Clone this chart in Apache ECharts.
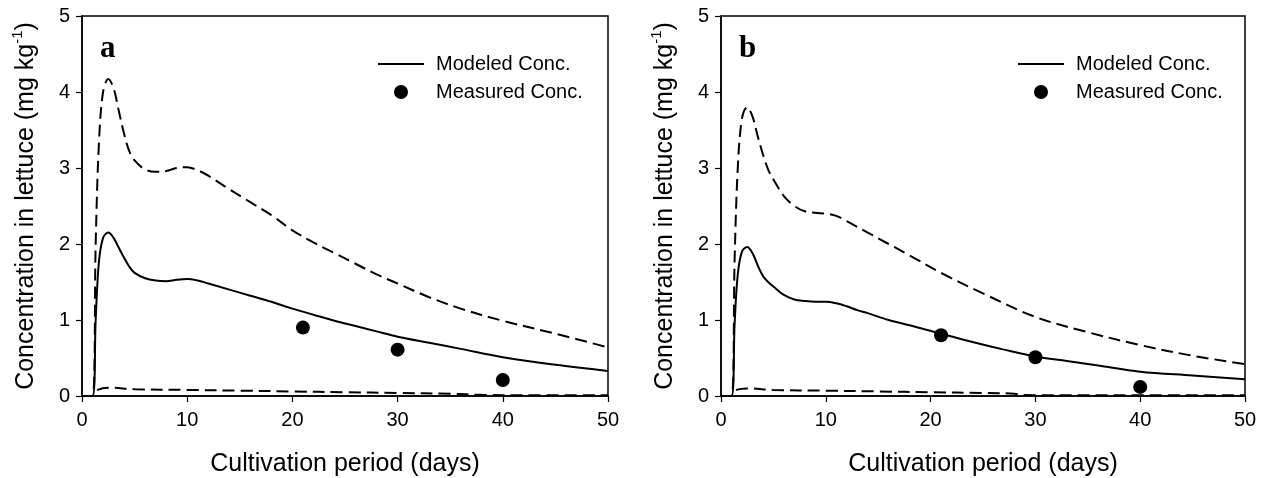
<!DOCTYPE html>
<html>
<head>
<meta charset="utf-8">
<script src="https://cdn.jsdelivr.net/npm/echarts@6/dist/echarts.min.js"></script>
<style>
html,body{margin:0;padding:0;background:#fff;}
#chart{width:1272px;height:478px;}
</style>
</head>
<body>
<div id="chart"></div>
<script>
// ---- Data (x = day, y = mg/kg) ----
const xTicks = [0, 10, 20, 30, 40, 50];
const yTicks = [0, 1, 2, 3, 4, 5];
const panelLabels = ['a', 'b'];

const aModeled = [[0,0],[1,0],[1.3,1.0],[1.6,1.75],[2,2.08],[2.5,2.15],[3,2.08],[3.5,1.95],[4,1.82],[4.5,1.7],[5,1.62],[6,1.55],[7,1.52],[8,1.51],[9,1.53],[10,1.54],[11,1.52],[12,1.48],[14,1.4],[16,1.32],[18,1.24],[20,1.15],[22,1.07],[24,0.99],[26,0.92],[28,0.85],[30,0.78],[33,0.7],[36,0.62],[40,0.51],[45,0.41],[50,0.33]];
const aUpper = [[0,0],[1,0],[1.3,2.0],[1.6,3.3],[2,4.0],[2.5,4.17],[3,4.05],[3.5,3.75],[4,3.45],[4.5,3.22],[5,3.1],[6,2.98],[7,2.95],[8,2.96],[9,3.0],[10,3.01],[11,2.97],[12,2.9],[14,2.72],[16,2.55],[18,2.38],[20,2.18],[22,2.02],[24,1.88],[26,1.74],[28,1.6],[30,1.48],[33,1.3],[36,1.15],[40,0.99],[45,0.82],[50,0.64]];
const aLower = [[0,0],[1,0],[1.5,0.08],[2.5,0.11],[5,0.09],[10,0.08],[15,0.07],[20,0.06],[25,0.05],[30,0.04],[35,0.03],[38,0.015],[42,0.01],[50,0.01]];
const aMeasured = [[21,0.9],[30,0.61],[40,0.21]];

const bModeled = [[0,0],[1,0],[1.3,0.95],[1.6,1.6],[2,1.9],[2.5,1.96],[3,1.88],[3.5,1.72],[4,1.58],[4.5,1.5],[5,1.44],[6,1.33],[7,1.27],[8,1.25],[9,1.24],[10,1.24],[11,1.22],[12,1.18],[13,1.13],[14,1.09],[16,1.0],[18,0.93],[21,0.82],[24,0.71],[27,0.61],[30,0.52],[33,0.46],[36,0.4],[40,0.32],[45,0.27],[50,0.22]];
const bUpper = [[0,0],[1,0],[1.3,1.8],[1.6,3.0],[2,3.65],[2.5,3.8],[3,3.68],[3.5,3.42],[4,3.18],[4.5,2.98],[5,2.85],[6,2.63],[7,2.5],[8,2.43],[9,2.41],[10,2.4],[11,2.37],[12,2.3],[14,2.15],[16,2.0],[18,1.85],[21,1.62],[25,1.35],[30,1.04],[35,0.84],[40,0.67],[45,0.53],[50,0.42]];
const bLower = [[0,0],[1,0],[1.5,0.08],[2.5,0.1],[5,0.08],[10,0.07],[15,0.06],[20,0.05],[25,0.04],[28,0.03],[29,0.012],[35,0.01],[50,0.01]];
const bMeasured = [[21,0.8],[30,0.51],[40,0.12]];

const modeledName = 'Modeled Conc.';
const measuredName = 'Measured Conc.';
const xName = 'Cultivation period (days)';

// ---- Chart ----
const chart = echarts.init(document.getElementById('chart'), null, {renderer: 'canvas'});
const FONT = 'Liberation Sans, Arial, sans-serif';
const grids = [
  {left: 82, top: 16, width: 526, height: 380},
  {left: 721, top: 16, width: 524, height: 380}
];
function xAxis(i) {
  return {
    type: 'value', gridIndex: i, min: xTicks[0], max: xTicks[xTicks.length - 1], interval: 10,
    name: xName, nameLocation: 'middle', nameGap: 56,
    nameTextStyle: {fontFamily: FONT, fontSize: 25, color: '#000'},
    axisLine: {lineStyle: {color: '#000', width: 1.5}},
    axisTick: {inside: false, length: 6, lineStyle: {color: '#000', width: 1.2}},
    axisLabel: {fontFamily: FONT, fontSize: 20, color: '#000', margin: 14},
    splitLine: {show: false}
  };
}
function yAxis(i) {
  return {
    type: 'value', gridIndex: i, min: yTicks[0], max: yTicks[yTicks.length - 1], interval: 1,
    name: '{a|Concentration in lettuce (mg kg}{s|-1}{a|)}', nameLocation: 'middle', nameGap: 43,
    nameTextStyle: {
      rich: {
        a: {fontFamily: FONT, fontSize: 25, color: '#000', lineHeight: 29, verticalAlign: 'bottom'},
        s: {fontFamily: FONT, fontSize: 15, color: '#000', lineHeight: 29, verticalAlign: 'top'}
      }
    },
    axisLine: {lineStyle: {color: '#000', width: 1.5}},
    axisTick: {inside: false, length: 6, lineStyle: {color: '#000', width: 1.2}},
    axisLabel: {fontFamily: FONT, fontSize: 20, color: '#000', margin: 12},
    splitLine: {show: false}
  };
}
function lineSeries(i, name, data, dashed) {
  return {
    type: 'line', name: name, xAxisIndex: i, yAxisIndex: i, data: data,
    smooth: 0.35, symbol: 'none', animation: false,
    itemStyle: {color: '#000'},
    lineStyle: {color: '#000', width: 2, type: dashed ? [12, 6] : 'solid'},
    z: 3
  };
}
function scatterSeries(i, data) {
  return {
    type: 'scatter', name: measuredName, xAxisIndex: i, yAxisIndex: i, data: data,
    symbol: 'circle', symbolSize: 14, itemStyle: {color: '#000', opacity: 1}, animation: false, z: 4
  };
}
const legendLefts = [372, 1012];
const option = {
  backgroundColor: '#fff',
  animation: false,
  grid: grids.map(g => Object.assign({show: true, borderColor: '#000', borderWidth: 1.5, backgroundColor: 'transparent', containLabel: false, outerBoundsMode: 'none'}, g)),
  xAxis: [xAxis(0), xAxis(1)],
  yAxis: [yAxis(0), yAxis(1)],
  title: panelLabels.map((t, i) => ({
    text: t, left: grids[i].left + 13, top: 28,
    textStyle: {fontFamily: 'Liberation Serif, Times New Roman, serif', fontWeight: 'bold', fontSize: 31, color: '#000'}
  })),
  legend: legendLefts.map(l => ({
    orient: 'vertical', left: l, top: 49, itemWidth: 46, itemHeight: 14, itemGap: 8,
    data: [
      {name: modeledName, itemStyle: {opacity: 0}},
      {name: measuredName, itemStyle: {color: '#000', opacity: 1}}
    ],
    selectedMode: false,
    textStyle: {fontFamily: FONT, fontSize: 20, color: '#000', padding: [0, 0, 0, 7]}
  })),
  series: [
    lineSeries(0, modeledName, aModeled, false),
    lineSeries(0, 'Upper A', aUpper, true),
    lineSeries(0, 'Lower A', aLower, true),
    scatterSeries(0, aMeasured),
    lineSeries(1, modeledName, bModeled, false),
    lineSeries(1, 'Upper B', bUpper, true),
    lineSeries(1, 'Lower B', bLower, true),
    scatterSeries(1, bMeasured)
  ]
};
chart.setOption(option);
</script>
</body>
</html>
